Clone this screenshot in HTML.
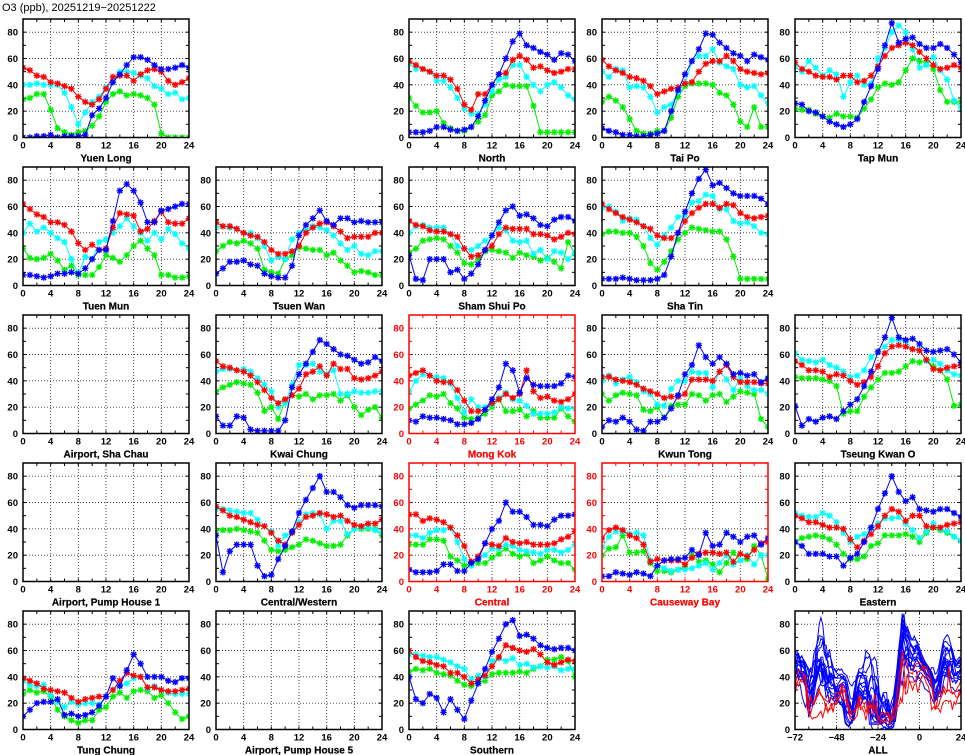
<!DOCTYPE html>
<html><head><meta charset="utf-8"><style>
body{margin:0;background:#fff;}
svg{display:block;font-family:"Liberation Sans",sans-serif;}
</style></head><body>
<svg id="chart" width="965" height="755" viewBox="0 0 965 755">
<text x="2" y="11" font-size="11" fill="#000">O3 (ppb), 20251219−20251222</text>
</svg>
<script>
const stationNames=["Yuen Long","North","Tai Po","Tap Mun","Tuen Mun","Tsuen Wan","Sham Shui Po","Sha Tin","Airport, Sha Chau","Kwai Chung","Mong Kok","Kwun Tong","Tseung Kwan O","Airport, Pump House 1","Central/Western","Central","Causeway Bay","Eastern","Tung Chung","Airport, Pump House 5","Southern"];
const roadside=["Mong Kok","Central","Causeway Bay"];
const hours=[0,1,2,3,4,5,6,7,8,9,10,11,12,13,14,15,16,17,18,19,20,21,22,23,24];
const xTicks=[0,4,8,12,16,20,24];
const yTicks=[0,20,40,60,80];
const allTicks=[-72,-48,-24,0,24];
const seriesBlue={
"Yuen Long":[0,0,1,1,2,0,1,1,1,2,17,22,30,42,48,55,61,61,59,55,52,52,53,55,53],
"North":[4,4,4,5,8,8,6,5,6,8,16,28,40,48,60,73,79,70,68,65,63,59,64,63,58],
"Tai Po":[7,5,4,2,2,1,1,2,3,5,20,36,48,58,67,79,78,72,68,64,62,58,63,61,59],
"Tap Mun":[26,25,20,19,16,12,10,8,10,14,27,39,52,70,87,72,75,76,71,68,68,71,68,63,57],
"Tuen Mun":[8,8,7,6,7,9,9,10,9,13,20,27,27,49,72,77,72,63,48,48,57,58,60,62,62],
"Tsuen Wan":[9,13,18,18,19,16,15,9,7,6,6,15,38,46,51,57,49,46,51,51,48,49,48,48,48],
"Sham Shui Po":[23,5,4,20,20,20,10,12,5,9,16,27,38,48,57,60,53,54,51,46,45,50,52,52,49],
"Sha Tin":[5,5,5,6,5,4,4,4,5,8,22,40,56,70,81,88,76,78,74,70,68,68,68,66,62],
"Kwai Chung":[13,6,6,13,12,3,2,2,2,2,10,35,45,53,62,71,68,64,60,59,56,53,54,58,55],
"Mong Kok":[10,9,13,12,12,11,10,7,7,8,11,18,26,35,53,48,31,42,37,36,36,36,38,44,43],
"Kwun Tong":[5,10,9,12,9,3,2,9,9,12,19,29,45,52,67,58,53,58,53,45,46,44,45,39,42],
"Tseung Kwan O":[21,6,11,9,12,13,11,17,22,26,36,47,62,73,88,73,71,72,68,63,62,63,64,60,54],
"Central/Western":[35,7,23,28,28,28,12,4,5,17,27,38,52,62,71,80,68,68,64,58,56,58,58,58,57],
"Central":[9,7,7,7,8,13,13,8,8,14,17,29,40,46,60,53,53,49,43,43,42,47,50,50,51],
"Causeway Bay":[4,4,7,6,5,7,6,4,12,16,17,17,18,24,20,37,27,28,37,34,30,34,35,28,33],
"Eastern":[30,27,21,21,21,19,19,12,18,21,30,41,55,67,80,68,61,64,55,54,53,55,55,52,49],
"Tung Chung":[10,15,20,21,21,23,11,12,10,11,13,18,25,39,33,45,57,50,40,40,40,37,36,39,39],
"Southern":[40,23,20,27,24,13,23,15,8,22,35,46,59,69,80,83,71,72,69,64,62,61,62,62,60]};
const seriesRed={
"Yuen Long":[53,51,47,46,42,41,39,37,31,27,25,29,37,46,47,47,43,48,51,52,50,43,40,42,45],
"North":[58,55,52,50,47,47,44,37,25,21,33,33,40,48,49,59,62,59,53,54,51,49,50,52,52],
"Tai Po":[59,54,51,49,46,45,43,39,33,35,37,38,41,42,50,56,58,58,62,58,52,50,49,48,49],
"Tap Mun":[57,52,50,47,46,46,44,47,47,42,43,47,54,62,68,70,72,70,65,60,55,52,53,55,53],
"Tuen Mun":[62,58,54,52,48,48,46,41,32,27,31,27,28,44,55,54,53,41,43,49,56,48,47,47,51],
"Tsuen Wan":[48,45,45,43,40,38,37,33,27,24,24,26,30,40,44,47,48,45,41,36,37,37,37,40,40],
"Sham Shui Po":[49,46,45,42,41,41,39,37,28,22,23,27,30,39,44,43,43,43,39,39,38,35,37,40,39],
"Sha Tin":[62,58,55,52,50,48,45,43,38,36,36,40,49,55,59,62,62,59,62,61,55,52,51,52,53],
"Kwai Chung":[55,51,50,48,47,44,39,33,27,23,26,29,34,45,47,51,44,53,49,49,42,41,42,44,47],
"Mong Kok":[44,46,48,44,40,39,39,33,25,17,17,18,23,26,30,27,30,48,32,27,28,25,24,26,30],
"Kwun Tong":[43,43,41,40,39,37,34,32,30,27,28,28,30,41,41,41,40,47,52,43,39,39,39,38,38],
"Tseung Kwan O":[55,52,48,48,47,43,45,44,40,37,39,43,51,61,66,67,66,64,63,56,49,48,50,51,52],
"Central/Western":[57,54,50,49,47,45,43,42,37,31,28,37,43,49,50,52,51,49,50,46,43,42,44,44,47],
"Central":[51,51,46,48,47,45,41,35,27,15,19,29,28,27,33,30,29,30,28,28,28,29,32,34,38],
"Causeway Bay":[33,39,41,39,35,33,28,15,17,16,16,16,13,18,21,22,22,21,22,15,21,19,24,29,30],
"Eastern":[50,48,45,45,43,41,41,40,32,26,31,36,42,50,55,53,46,50,50,42,41,41,43,44,45],
"Tung Chung":[39,37,35,31,30,29,28,24,21,23,24,25,25,30,37,43,41,40,32,32,30,29,29,30,31],
"Southern":[60,55,52,51,49,48,43,43,40,35,38,41,48,55,64,62,60,59,61,57,51,49,51,53,52]};
const seriesCyan={
"Yuen Long":[40,40,41,40,40,40,34,23,10,19,27,31,38,42,50,50,49,47,45,39,37,33,34,29,30],
"North":[56,52,52,50,43,43,38,30,22,18,18,25,35,44,46,55,55,46,40,35,40,42,38,32,29],
"Tai Po":[50,46,52,51,38,39,38,31,19,23,25,35,41,58,62,62,67,57,54,52,40,38,39,32,26],
"Tap Mun":[54,50,58,53,47,51,48,31,42,47,40,41,60,68,80,85,80,67,53,55,61,51,44,28,23],
"Tuen Mun":[40,47,41,44,40,36,33,20,9,22,20,33,35,40,45,51,45,40,34,40,35,43,39,32,28],
"Tsuen Wan":[44,45,44,43,40,40,36,30,19,22,20,35,40,42,45,44,42,38,32,27,30,24,23,26,26],
"Sham Shui Po":[40,45,46,44,44,44,39,30,28,27,30,34,38,44,42,34,33,34,24,27,20,26,25,20,25],
"Sha Tin":[59,60,56,49,51,50,45,36,31,38,44,52,53,63,64,69,68,58,58,49,47,48,45,40,39],
"Kwai Chung":[47,49,49,48,49,47,42,37,32,20,23,37,52,52,53,47,45,48,30,30,32,31,31,32,32],
"Mong Kok":[32,40,45,44,43,42,38,27,16,26,20,20,22,27,31,26,25,21,15,15,15,16,20,19,19],
"Kwun Tong":[40,44,38,41,43,39,32,30,22,21,34,40,40,47,46,46,35,47,41,33,42,36,33,33,30],
"Tseung Kwan O":[61,56,55,54,56,52,50,47,43,44,48,58,62,66,71,71,70,64,64,55,56,53,48,45,44],
"Central/Western":[55,55,54,53,52,52,47,42,38,27,35,37,45,51,52,51,40,46,46,36,40,41,41,39,37],
"Central":[35,35,33,37,39,39,41,30,17,12,17,20,25,25,28,27,24,23,22,21,24,24,22,24,28],
"Causeway Bay":[26,34,38,38,36,37,35,16,12,10,8,9,9,10,12,14,9,14,20,13,16,20,13,20,20],
"Eastern":[52,50,49,49,52,50,45,37,30,34,36,40,44,48,48,49,44,39,33,38,44,40,38,34,31],
"Tung Chung":[37,34,33,34,26,21,17,21,19,20,20,19,25,30,33,35,39,40,31,33,30,28,27,27,27],
"Southern":[57,57,56,55,55,53,51,48,46,38,41,40,52,54,52,54,49,50,47,48,47,48,45,46,46]};
const seriesGreen={
"Yuen Long":[29,30,33,33,21,7,4,2,4,5,9,16,27,33,35,32,33,32,30,25,3,0,0,0,0],
"North":[30,24,19,19,20,11,7,5,5,8,12,17,32,35,40,39,39,39,24,4,4,4,4,4,4],
"Tai Po":[27,31,28,23,14,5,3,3,5,5,15,31,39,41,41,41,40,34,32,25,12,8,23,8,8],
"Tap Mun":[22,21,21,18,16,15,18,16,16,15,22,29,38,41,40,42,51,60,58,57,52,36,27,27,27],
"Tuen Mun":[28,21,20,21,24,19,12,15,8,8,8,14,23,21,18,23,30,34,28,23,8,8,6,6,7],
"Tsuen Wan":[26,30,33,32,34,32,28,12,10,9,20,23,29,28,27,27,23,25,19,15,10,11,10,8,8],
"Sham Shui Po":[25,28,34,35,36,35,30,25,17,16,20,26,27,26,25,21,25,23,22,19,21,18,13,33,24],
"Sha Tin":[39,41,41,40,40,37,30,17,12,18,26,35,40,44,43,42,41,41,35,22,5,5,5,5,5],
"Kwai Chung":[32,35,37,39,38,37,31,17,20,11,25,29,28,30,26,29,29,30,25,29,20,14,18,20,12],
"Mong Kok":[19,22,25,29,28,30,23,19,12,11,12,15,20,26,17,17,18,13,17,12,12,12,19,13,9],
"Kwun Tong":[30,25,29,31,30,29,18,17,20,12,21,22,22,30,29,25,29,30,24,28,32,31,30,11,5],
"Tseung Kwan O":[43,42,42,42,41,40,36,15,17,17,28,35,41,46,46,47,51,55,54,56,51,48,41,21,22],
"Central/Western":[39,39,39,40,39,38,37,31,24,23,24,26,28,32,31,29,27,27,28,35,40,40,40,40,35],
"Central":[28,28,28,32,32,31,19,16,12,14,14,14,18,21,25,21,19,21,14,16,19,16,14,14,9],
"Causeway Bay":[20,25,26,35,22,22,23,14,8,8,7,9,11,20,15,16,13,7,14,22,16,17,27,20,2],
"Eastern":[30,33,34,35,34,32,28,21,17,17,19,27,29,35,35,35,36,34,30,37,41,39,37,34,31],
"Tung Chung":[27,30,28,29,25,15,10,7,5,7,7,15,17,25,28,24,29,30,29,24,26,20,13,8,10],
"Southern":[44,46,45,46,43,42,41,37,34,33,36,37,42,43,43,43,44,43,46,48,53,53,55,52,40]};
const layout=[["Yuen Long",0,0],["North",2,0],["Tai Po",3,0],["Tap Mun",4,0],
["Tuen Mun",0,1],["Tsuen Wan",1,1],["Sham Shui Po",2,1],["Sha Tin",3,1],
["Airport, Sha Chau",0,2],["Kwai Chung",1,2],["Mong Kok",2,2],["Kwun Tong",3,2],["Tseung Kwan O",4,2],
["Airport, Pump House 1",0,3],["Central/Western",1,3],["Central",2,3],["Causeway Bay",3,3],["Eastern",4,3],
["Tung Chung",0,4],["Airport, Pump House 5",1,4],["Southern",2,4],["ALL",4,4]];
const NS="http://www.w3.org/2000/svg";
const svg=document.getElementById("chart");
const X0=[23,216,409,602,795],Y0=[19,167,315,463,611],W=166,H=118.5,YMAX=90;
function mk(tag,attrs,parent){const e=document.createElementNS(NS,tag);for(const k in attrs)e.setAttribute(k,attrs[k]);(parent||svg).appendChild(e);return e;}
function slug(s){return s.toLowerCase().replace(/[^a-z0-9]+/g,'-').replace(/-$/,'');}
const colors={blue:"#0000ff",red:"#ff0000",cyan:"#00ffff",green:"#00ee00"};
layout.forEach(([name,c,r],idx)=>{
  const px=X0[c],py=Y0[r];
  const isAll=name==="ALL";
  const xmin=isAll?-72:0,xmax=24;
  const xs=v=>px+(v-xmin)/(xmax-xmin)*W;
  const ys=v=>py+H-v/YMAX*H;
  const col=roadside.includes(name)?"#ff0000":"#000";
  const g=mk("g",{});
  
  
  const cid="clip"+idx;
  const cp=mk("clipPath",{id:cid},g);mk("rect",{x:px,y:py,width:W,height:H},cp);
  const gx=isAll?[-48,-24,0]:[4,8,12,16,20];
  gx.forEach(v=>{const l=mk("line",{x1:xs(v),x2:xs(v),y1:py,y2:py+H,stroke:"#333","stroke-width":0.9,"stroke-dasharray":"1,2"},g);});
  [20,40,60,80].forEach(v=>{const l=mk("line",{x1:px,x2:px+W,y1:ys(v),y2:ys(v),stroke:"#333","stroke-width":0.9,"stroke-dasharray":"1,2"},g);});
  const step=isAll?8:2;
  for(let v=xmin+step;v<xmax;v+=step){mk("line",{x1:xs(v),x2:xs(v),y1:py,y2:py+3,stroke:col},g);mk("line",{x1:xs(v),x2:xs(v),y1:py+H,y2:py+H-3,stroke:col},g);}
  for(let v=10;v<YMAX;v+=10){mk("line",{x1:px,x2:px+3,y1:ys(v),y2:ys(v),stroke:col},g);mk("line",{x1:px+W,x2:px+W-3,y1:ys(v),y2:ys(v),stroke:col},g);}
  yTicks.forEach(v=>{const t=mk("text",{x:px-5,y:ys(v)+3.5,"text-anchor":"end","font-size":9.5,"font-weight":"bold",fill:col},g);t.textContent=v;});
  (isAll?allTicks:xTicks).forEach(v=>{const t=mk("text",{x:xs(v),y:py+H+11,"text-anchor":"middle","font-size":9.5,"font-weight":"bold",fill:col},g);t.textContent=(v<0?"−"+(-v):v);});
  const tt=mk("text",{x:px+W/2,y:py+H+24,"text-anchor":"middle","font-size":10,"font-weight":"bold",fill:col,stroke:col,"stroke-width":0.2},g);
  tt.textContent=name;
  
  
  const pg=mk("g",{"clip-path":"url(#"+cid+")"},g);
  if(isAll){
    const draw=(st,color)=>{
      const vals=[].concat(seriesCyan[st].slice(0,24),seriesGreen[st].slice(0,24),seriesBlue[st].slice(0,24),seriesRed[st]);
      const pts=vals.map((v,i)=>xs(-72+i).toFixed(1)+","+ys(v).toFixed(1)).join(" ");
      const pl=mk("polyline",{points:pts,fill:"none",stroke:color,"stroke-width":1},pg);
      
      
    };
    Object.keys(seriesBlue).filter(s=>!roadside.includes(s)).forEach(s=>draw(s,"#0000ff"));
    roadside.forEach(s=>draw(s,"#ff0000"));
  } else if(seriesBlue[name]){
    [["green",seriesGreen],["cyan",seriesCyan],["red",seriesRed],["blue",seriesBlue]].forEach(([cn,ser])=>{
      const vals=ser[name];
      const pts=vals.map((v,i)=>xs(hours[i]).toFixed(1)+","+ys(v).toFixed(1)).join(" ");
      const pl=mk("polyline",{points:pts,fill:"none",stroke:colors[cn],"stroke-width":1},pg);
      
      
      vals.forEach((v,i)=>{
        const x=xs(hours[i]),y=ys(v),s=3.2;
        const m=mk("path",{d:`M${x-s},${y}H${x+s}M${x},${y-s}V${y+s}M${x-s*0.75},${y-s*0.75}L${x+s*0.75},${y+s*0.75}M${x-s*0.75},${y+s*0.75}L${x+s*0.75},${y-s*0.75}`,stroke:colors[cn],"stroke-width":1.3},pg);
        
        
      });
    });
  }
  const fr=mk("rect",{x:px,y:py,width:W,height:H,fill:"none",stroke:col,"stroke-width":1.5},g);
  
  
});
</script>
</body></html>
